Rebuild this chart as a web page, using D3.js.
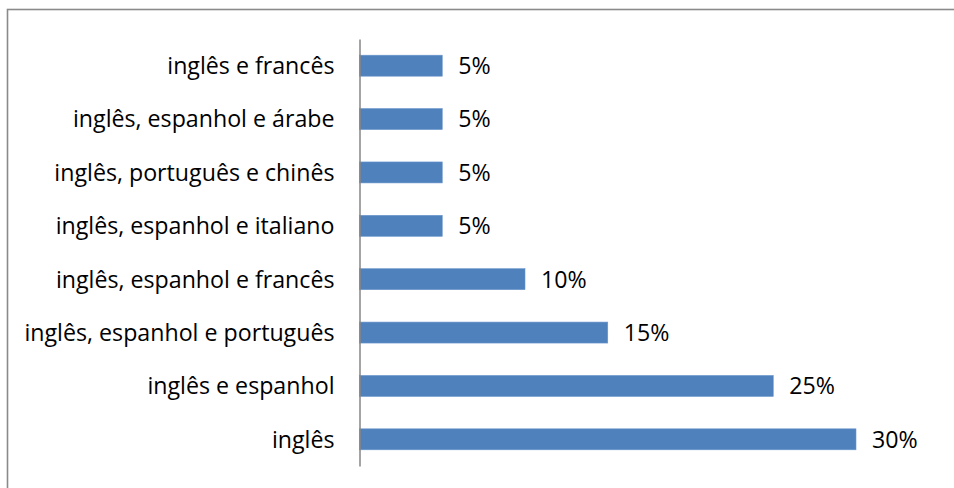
<!DOCTYPE html>
<html>
<head>
<meta charset="utf-8">
<script src="https://cdn.jsdelivr.net/npm/d3@7"></script>
<style>
  html, body { margin: 0; padding: 0; background: #fff; }
  svg { display: block; }
  text { font-family: "Open Sans", "Noto Sans", sans-serif; fill: #000; }
</style>
</head>
<body>
<svg id="chart" width="954" height="488"></svg>
<script>
// Language combinations (top to bottom) and their shares in percent
const categories = [
  "inglês e francês",
  "inglês, espanhol e árabe",
  "inglês, português e chinês",
  "inglês, espanhol e italiano",
  "inglês, espanhol e francês",
  "inglês, espanhol e português",
  "inglês e espanhol",
  "inglês"
];
const values = [5, 5, 5, 5, 10, 15, 25, 30];
const valueLabels = ["5%", "5%", "5%", "5%", "10%", "15%", "25%", "30%"];

const svg = d3.select("#chart");
const W = 954, H = 488;
const FONT_SIZE = 23.2;

// Outer chart frame (runs past the right and bottom edges)
svg.append("rect")
  .attr("x", 7.5).attr("y", 9.5)
  .attr("width", W + 10).attr("height", H + 10)
  .attr("fill", "#fff")
  .attr("stroke", "#8a8a8a")
  .attr("stroke-width", 1.6);

const x = d3.scaleLinear().domain([0, 30]).range([359.5, 856]);
const y = d3.scaleBand()
  .domain(categories)
  .range([39, 466])
  .paddingInner(0.607)
  .paddingOuter(0.3035);

const rows = categories.map((c, i) => ({ c, v: values[i], label: valueLabels[i] }));

// Bars
svg.append("g").selectAll("rect")
  .data(rows)
  .join("rect")
  .attr("x", x(0))
  .attr("y", d => y(d.c))
  .attr("width", d => x(d.v) - x(0))
  .attr("height", y.bandwidth())
  .attr("fill", "#4f81bd")
  .attr("stroke", "#6a96cc")
  .attr("stroke-width", 0.6);

// Category axis (line only, labels drawn by the axis)
const axis = d3.axisLeft(y).tickSize(0).tickPadding(25);
const gAxis = svg.append("g")
  .attr("transform", `translate(${x(0)},0)`)
  .call(axis);
gAxis.select(".domain").attr("stroke", "#868686").attr("stroke-width", 1.5);
gAxis.selectAll(".tick text")
  .attr("font-size", FONT_SIZE)
  .attr("font-family", "'Open Sans', sans-serif")
  .attr("fill", "#000")
  .attr("dy", "0.36em");

// Value labels
svg.append("g").selectAll("text")
  .data(rows)
  .join("text")
  .attr("x", d => x(d.v) + 16)
  .attr("y", d => y(d.c) + y.bandwidth() / 2)
  .attr("dy", "0.36em")
  .attr("font-size", FONT_SIZE)
  .text(d => d.label);
</script>
</body>
</html>
